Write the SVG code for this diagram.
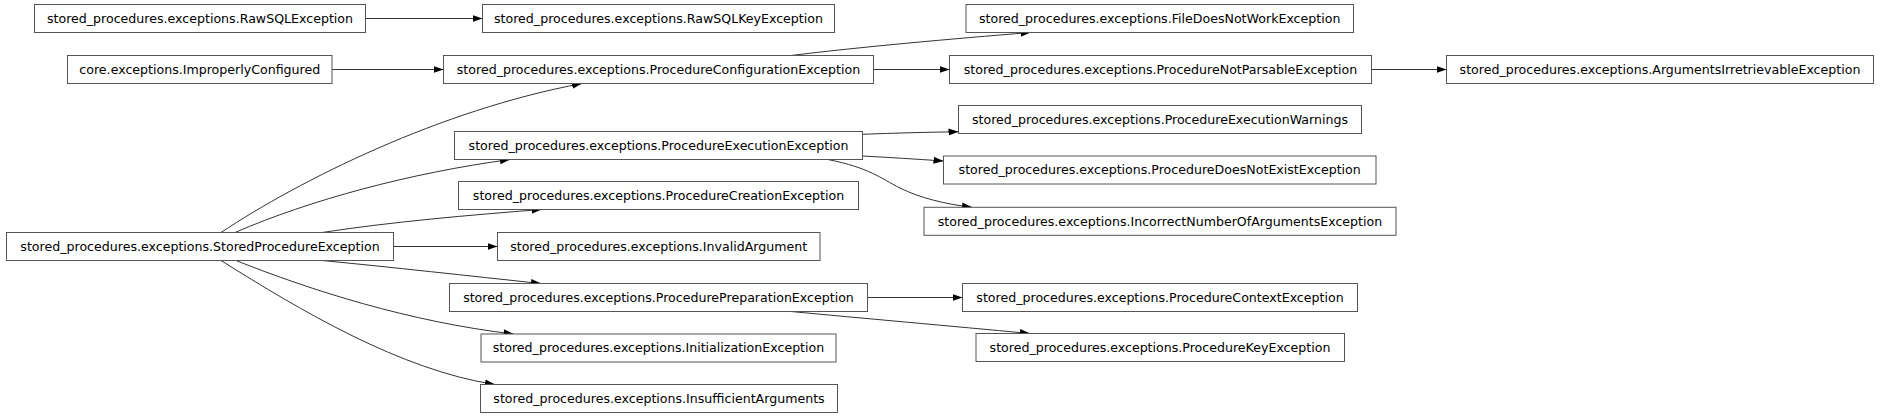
<svg xmlns="http://www.w3.org/2000/svg" width="1880" height="417" viewBox="0 0 1880 417">
<defs>
<style>
.n rect{fill:#fff;stroke:#555;stroke-width:1}
.n text{font-family:"DejaVu Sans","Liberation Sans",sans-serif;font-size:12.6px;fill:#000;text-anchor:middle}
.e path{fill:none;stroke:#333;stroke-width:1;marker-end:url(#ah)}
</style>
<marker id="ah" markerUnits="userSpaceOnUse" markerWidth="10" markerHeight="8" refX="10" refY="3.5" orient="auto" viewBox="0 0 10 7">
<path d="M0,0 L10,3.5 L0,7 z" fill="#000" stroke="none"/>
</marker>
</defs>
<rect width="1880" height="417" fill="#fff"/>
<g id="connectors" class="e">
<path d="M365.5,18.5 L482.5,18.5"/>
<path d="M332,69.5 L443.5,69.5"/>
<path d="M791,55.5 C860,47 950,39 1030.5,32.5"/>
<path d="M873.5,69.5 L949.5,69.5"/>
<path d="M1371.5,69.5 L1446.5,69.5"/>
<path d="M221,232.5 C300,180 440,110 582,83.5"/>
<path d="M235,232.5 C310,200 410,173 510,159.5"/>
<path d="M322,232.5 C390,222 470,215 541.5,209.5"/>
<path d="M393.5,246.5 L497.5,246.5"/>
<path d="M322,260.5 C390,267 470,276 541,283.5"/>
<path d="M236,260.5 C310,290 410,322 513.5,334"/>
<path d="M221,260.5 C300,310 400,370 495,384.5"/>
<path d="M862.5,134.3 C895,133 925,132.3 958.5,131.7"/>
<path d="M862.5,156 C890,157.5 915,159 943.5,161"/>
<path d="M828,159.5 C870,168 880,178 900,188 C920,198 945,204 972,207.3"/>
<path d="M867.5,297.5 L962.5,297.5"/>
<path d="M791,311.5 C860,318 950,326 1030,333.5"/>
</g>
<g id="n1" class="n"><rect x="34.5" y="4.5" width="331" height="28"/><text x="200" y="22.8">stored_procedures.exceptions.RawSQLException</text></g>
<g id="n2" class="n"><rect x="482.5" y="4.5" width="352" height="28"/><text x="658.5" y="22.8">stored_procedures.exceptions.RawSQLKeyException</text></g>
<g id="n3" class="n"><rect x="966" y="4.5" width="387.5" height="28"/><text x="1159.7" y="22.8">stored_procedures.exceptions.FileDoesNotWorkException</text></g>
<g id="n4" class="n"><rect x="67.5" y="55.5" width="264.5" height="28"/><text x="199.8" y="73.8">core.exceptions.ImproperlyConfigured</text></g>
<g id="n5" class="n"><rect x="443.5" y="55.5" width="430" height="28"/><text x="658.5" y="73.8">stored_procedures.exceptions.ProcedureConfigurationException</text></g>
<g id="n6" class="n"><rect x="949.5" y="55.5" width="422" height="28"/><text x="1160.5" y="73.8">stored_procedures.exceptions.ProcedureNotParsableException</text></g>
<g id="n7" class="n"><rect x="1446.5" y="55.5" width="427" height="28"/><text x="1660" y="73.8">stored_procedures.exceptions.ArgumentsIrretrievableException</text></g>
<g id="n8" class="n"><rect x="958.5" y="105.5" width="403" height="28"/><text x="1160" y="123.8">stored_procedures.exceptions.ProcedureExecutionWarnings</text></g>
<g id="n9" class="n"><rect x="454.5" y="131.5" width="408" height="28"/><text x="658.5" y="149.8">stored_procedures.exceptions.ProcedureExecutionException</text></g>
<g id="n10" class="n"><rect x="943.5" y="156" width="432.5" height="28"/><text x="1159.7" y="174.3">stored_procedures.exceptions.ProcedureDoesNotExistException</text></g>
<g id="n11" class="n"><rect x="458.5" y="181.5" width="400" height="28"/><text x="658.5" y="199.8">stored_procedures.exceptions.ProcedureCreationException</text></g>
<g id="n12" class="n"><rect x="924" y="207.3" width="472" height="28"/><text x="1160" y="225.6">stored_procedures.exceptions.IncorrectNumberOfArgumentsException</text></g>
<g id="n13" class="n"><rect x="6.5" y="232.5" width="387" height="28"/><text x="200" y="250.8">stored_procedures.exceptions.StoredProcedureException</text></g>
<g id="n14" class="n"><rect x="497.5" y="232.5" width="322.5" height="28"/><text x="658.7" y="250.8">stored_procedures.exceptions.InvalidArgument</text></g>
<g id="n15" class="n"><rect x="449.5" y="283.5" width="418" height="28"/><text x="658.5" y="301.8">stored_procedures.exceptions.ProcedurePreparationException</text></g>
<g id="n16" class="n"><rect x="962.5" y="283.5" width="395" height="28"/><text x="1160" y="301.8">stored_procedures.exceptions.ProcedureContextException</text></g>
<g id="n17" class="n"><rect x="481" y="334" width="355" height="28"/><text x="658.5" y="352.3">stored_procedures.exceptions.InitializationException</text></g>
<g id="n18" class="n"><rect x="976" y="333.5" width="368.5" height="28"/><text x="1160" y="351.8">stored_procedures.exceptions.ProcedureKeyException</text></g>
<g id="n19" class="n"><rect x="480.5" y="384.5" width="357" height="28"/><text x="659" y="402.8">stored_procedures.exceptions.InsufficientArguments</text></g>
</svg>
